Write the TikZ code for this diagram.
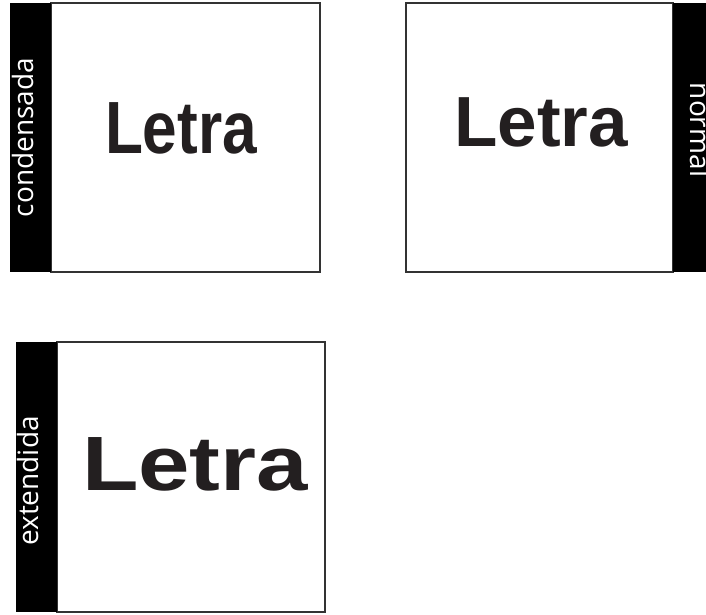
\documentclass[tikz,border=0pt]{standalone}
\usepackage{fontspec}
\setmainfont{Open Sans}
\newfontfamily\condfont[FakeStretch=0.84]{Liberation Sans}
\newfontfamily\normfont{Liberation Sans}
\newfontfamily\extfont[FakeStretch=1.2]{Liberation Sans}
\usetikzlibrary{positioning}
\definecolor{ink}{HTML}{231F20}
\definecolor{frame}{HTML}{333333}

\begin{document}
\begin{tikzpicture}[
    x=1pt, y=1pt,
    sample/.style={draw=frame, line width=1.5pt, fill=white, inner sep=0pt, outer sep=0pt},
    bar/.style={fill=black, inner sep=0pt, outer sep=0pt, minimum width=41pt},
    tag/.style={text=white, inner sep=0pt, anchor=base, font=\fontsize{28}{28}\selectfont},
    letra/.style={text=ink, inner sep=0pt}
]
\clip (0,0) rectangle (706,615);

% the three samples
\node[sample, minimum width=269pt, minimum height=269pt] (cond) at (185.5,477.5) {};
\node[sample, minimum width=267pt, minimum height=269pt] (norm) at (539.5,477.5) {};
\node[sample, minimum width=268pt, minimum height=270pt] (ext) at (191,138) {};

\node[bar, minimum height=269pt, left=0pt of cond] (condbar) {};
\node[bar, minimum height=269pt, right=0pt of norm] (normbar) {};
\node[bar, minimum height=270pt, left=0pt of ext] (extbar) {};

\node[tag, rotate=90] (condtag) at ([shift={(2.5,0)}]condbar.center) {condensada};
\node[tag, rotate=-90] (normtag) at ([shift={(-3.5,7.5)}]normbar.center) {normal};
\node[tag, rotate=90] (exttag) at ([shift={(1.5,-4)}]extbar.center) {extendida};

\node[letra, font=\condfont\bfseries\fontsize{74}{74}\selectfont] (condword) at ([shift={(-4.5,9.5)}]cond.center) {Letra};
\node[letra, font=\normfont\bfseries\fontsize{71}{71}\selectfont] (normword) at ([shift={(1.5,15.5)}]norm.center) {Letra};
\node[letra, font=\extfont\bfseries\fontsize{77}{77}\selectfont] (extword) at ([shift={(4,13)}]ext.center) {Letra};
\end{tikzpicture}
\end{document}
